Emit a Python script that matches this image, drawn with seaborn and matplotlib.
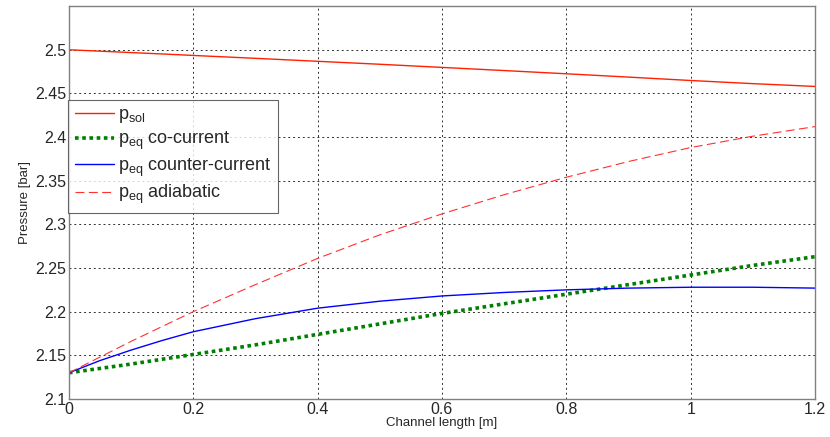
import matplotlib
matplotlib.use("Agg")
import matplotlib.pyplot as plt
import seaborn as sns
import pandas as pd

# channel length [m]
length = [0.0, 0.05, 0.1, 0.15, 0.2, 0.3, 0.4, 0.5, 0.6, 0.7, 0.8, 0.9, 1.0, 1.1, 1.2]

# pressures [bar]
p_sol = [2.500, 2.4984, 2.4968, 2.4952, 2.4935, 2.4902, 2.4868, 2.4834, 2.4798, 2.4762,
         2.4725, 2.4687, 2.4648, 2.4612, 2.4580]
p_co = [2.130, 2.135, 2.140, 2.1455, 2.151, 2.162, 2.174, 2.186, 2.198, 2.209,
        2.220, 2.231, 2.242, 2.253, 2.263]
p_counter = [2.130, 2.144, 2.156, 2.167, 2.177, 2.192, 2.204, 2.212, 2.218, 2.222,
             2.225, 2.227, 2.228, 2.228, 2.227]
p_adiabatic = [2.130, 2.148, 2.166, 2.183, 2.200, 2.231, 2.261, 2.288, 2.312, 2.334,
               2.354, 2.372, 2.388, 2.401, 2.412]

df = pd.DataFrame({
    'length': length,
    'sol': p_sol,
    'co': p_co,
    'counter': p_counter,
    'adiabatic': p_adiabatic,
})

sns.set_style('white')
plt.rcParams['font.family'] = ['Liberation Sans', 'DejaVu Sans']

fig = plt.figure(figsize=(8.3, 4.37), dpi=100)
ax = fig.add_axes([0.083, 0.087, 0.899, 0.899])

sns.lineplot(data=df, x='length', y='sol', ax=ax, color='#ff2000', lw=1.0,
             label=r'p$_{\mathregular{sol}}$')
sns.lineplot(data=df, x='length', y='co', ax=ax, color='#008000', lw=2.6,
             linestyle=(0, (1, 1)), label=r'p$_{\mathregular{eq}}$ co-current')
sns.lineplot(data=df, x='length', y='counter', ax=ax, color='#0000ff', lw=1.0,
             label=r'p$_{\mathregular{eq}}$ counter-current')
sns.lineplot(data=df, x='length', y='adiabatic', ax=ax, color='#ff3030', lw=0.8,
             linestyle=(0, (8, 4)), label=r'p$_{\mathregular{eq}}$ adiabatic')

ax.set_xlim(0, 1.2)
ax.set_ylim(2.1, 2.55)
ax.set_xticks([0, 0.2, 0.4, 0.6, 0.8, 1.0, 1.2])
ax.set_xticklabels(['0', '0.2', '0.4', '0.6', '0.8', '1', '1.2'])
ax.set_yticks([2.1, 2.15, 2.2, 2.25, 2.3, 2.35, 2.4, 2.45, 2.5])
ax.set_yticklabels(['2.1', '2.15', '2.2', '2.25', '2.3', '2.35', '2.4', '2.45', '2.5'])
ax.grid(True, color='#303030', linestyle=(0, (2, 3)), lw=0.7)
ax.tick_params(direction='in', length=4, labelsize=11.5, color='#707070', pad=2)
for s in ax.spines.values():
    s.set_color('#808080')
    s.set_linewidth(1.0)

ax.set_xlabel('Channel length [m]', fontsize=9.5, labelpad=0)
ax.set_ylabel('Pressure [bar]', fontsize=9.5, labelpad=3)

leg = ax.legend(loc='upper left', bbox_to_anchor=(-0.008, 0.775), fontsize=13,
                frameon=True, fancybox=False, handlelength=2.2, handletextpad=0.2,
                borderaxespad=0.3, labelspacing=0.25, borderpad=0.35)
leg.get_frame().set_edgecolor('#404040')
leg.get_frame().set_linewidth(0.8)

fig.savefig('out.png', dpi=100)
